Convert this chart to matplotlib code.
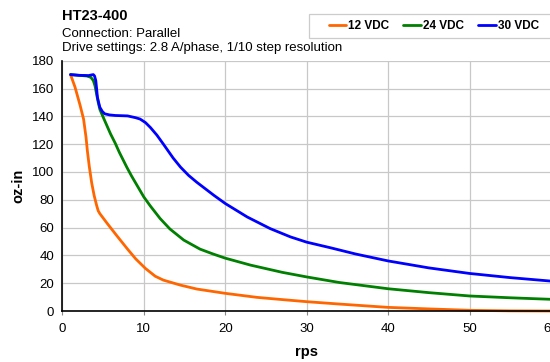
import matplotlib
matplotlib.use('Agg')
import matplotlib.pyplot as plt
from matplotlib.patches import Rectangle

plt.rcParams['font.family'] = ['Liberation Sans', 'DejaVu Sans']

# torque curves (rps, oz-in)
rps_12 = [1.0, 1.55, 2.17, 2.6, 2.9, 3.07, 3.3, 3.6, 3.9, 4.2, 4.4, 4.6, 5.5, 6.7, 8.0, 9.0,
          10.2, 11.4, 12.4, 14.5, 16.5, 20.0, 23.9, 27.0, 30.0, 34.0, 40.0, 45.0, 50.0, 55.0, 60.0]
torque_12 = [170, 161, 148, 138, 125, 115, 104, 92, 83, 76, 72, 70, 63, 54, 44.5, 37.5,
             30.6, 25, 22.2, 18.6, 15.8, 12.7, 9.8, 8.2, 6.7, 5.0, 2.6, 1.5, 0.5, 0.1, 0]

rps_24 = [1.0, 2.0, 3.0, 3.5, 3.8, 4.0, 4.2, 4.4, 4.6, 5.0, 5.9, 6.5, 7.0, 7.9, 8.5, 9.0, 10.0,
          10.8, 12.0, 13.2, 14.9, 16.9, 18.5, 20.0, 23.1, 25.5, 27.0, 30.0, 34.0, 40.0, 45.0,
          50.0, 55.0, 60.0]
torque_24 = [170, 169.5, 169, 168, 165.7, 162, 156, 150, 145, 139.5, 127.5, 120.5, 114, 103.5, 97,
             92, 82, 75.5, 66.5, 59, 51, 44.5, 41, 38, 33, 29.8, 27.8, 24.5, 20.5, 16, 13.2,
             10.8, 9.5, 8.4]

rps_30 = [1.0, 2.0, 3.2, 3.6, 3.8, 3.95, 4.1, 4.2, 4.3, 4.45, 4.6, 4.9, 5.2, 5.8, 6.5, 7.0, 8.0,
          9.0, 9.55, 10.2, 10.8, 11.6, 12.4, 13.0, 13.6, 14.5, 15.5, 16.5, 18.6, 20.0,
          22.7, 25.5, 28.0, 30.0, 32.9, 36.0, 40.0, 45.0, 50.0, 55.0, 60.0]
torque_30 = [170, 169.5, 169.3, 169.8, 170, 169, 165.7, 160, 153.7, 150, 146.5, 143.5, 141.8, 141,
             140.6, 140.5, 140.3, 139, 138, 135.5, 132, 126.5, 120, 115, 110, 103.5, 97.5, 92.6,
             83.2, 77.3, 67.6, 59.3, 53.3, 49.5, 45.5, 41, 36, 31, 27, 24, 21.5]

labels = ['12 VDC', '24 VDC', '30 VDC']
colors = ['#FF6600', '#008000', '#0000FF']

fig = plt.figure(figsize=(5.5, 3.62), dpi=100)
ax = fig.add_axes([62.4 / 550, 1 - 311 / 362, (551 - 62.4) / 550, (311 - 60.7) / 362])

series = [(rps_12, torque_12), (rps_24, torque_24), (rps_30, torque_30)]
for (x, y), lab, c in zip(series, labels, colors):
    ax.plot(x, y, color=c, lw=2.0, label=lab, solid_joinstyle='round',
            solid_capstyle='round', clip_on=False)

ax.set_xlim(0, 60)
ax.set_ylim(0, 180)
ax.set_xticks(range(0, 61, 10))
ax.set_yticks(range(0, 181, 20))
ax.grid(True, color='#c8c8c8', lw=0.9)
ax.set_axisbelow(True)
for s in ['top', 'right']:
    ax.spines[s].set_visible(False)
ax.spines['left'].set_linewidth(1.2)
ax.spines['bottom'].set_linewidth(1.2)
ax.tick_params(axis='x', length=3, color='#888888', labelsize=9.5, pad=6)
ax.tick_params(axis='y', length=0, labelsize=9.5, pad=6)

fig.text(307 / 550, 10 / 362, 'rps', ha='center', va='center',
         fontsize=10.5, fontweight='bold')
fig.text(18 / 550, 1 - 186 / 362, 'oz-in', ha='center', va='center', rotation=90,
         fontsize=10.5, fontweight='bold')

fig.text(62 / 550, 1 - 16 / 362, 'HT23-400', ha='left', va='center', fontsize=10.5, fontweight='bold')
fig.text(62 / 550, 1 - 34 / 362, 'Connection: Parallel', ha='left', va='center', fontsize=9.5)
fig.text(62 / 550, 1 - 48.5 / 362, 'Drive settings: 2.8 A/phase, 1/10 step resolution',
         ha='left', va='center', fontsize=9.5)

# legend box
fig.patches.append(Rectangle((309 / 550, 1 - 37.5 / 362), 260 / 550, 23.5 / 362,
                             transform=fig.transFigure, facecolor='white',
                             edgecolor='#cccccc', lw=0.9))
handles, labs = ax.get_legend_handles_labels()
leg = fig.legend(handles, labs, loc='center left', bbox_to_anchor=(318 / 550, 1 - 26 / 362),
                 ncol=3, frameon=False, handlelength=1.5, handletextpad=0.15,
                 columnspacing=1.2, prop={'size': 8.5, 'weight': 'bold'})

fig.savefig('out.png', dpi=100)
